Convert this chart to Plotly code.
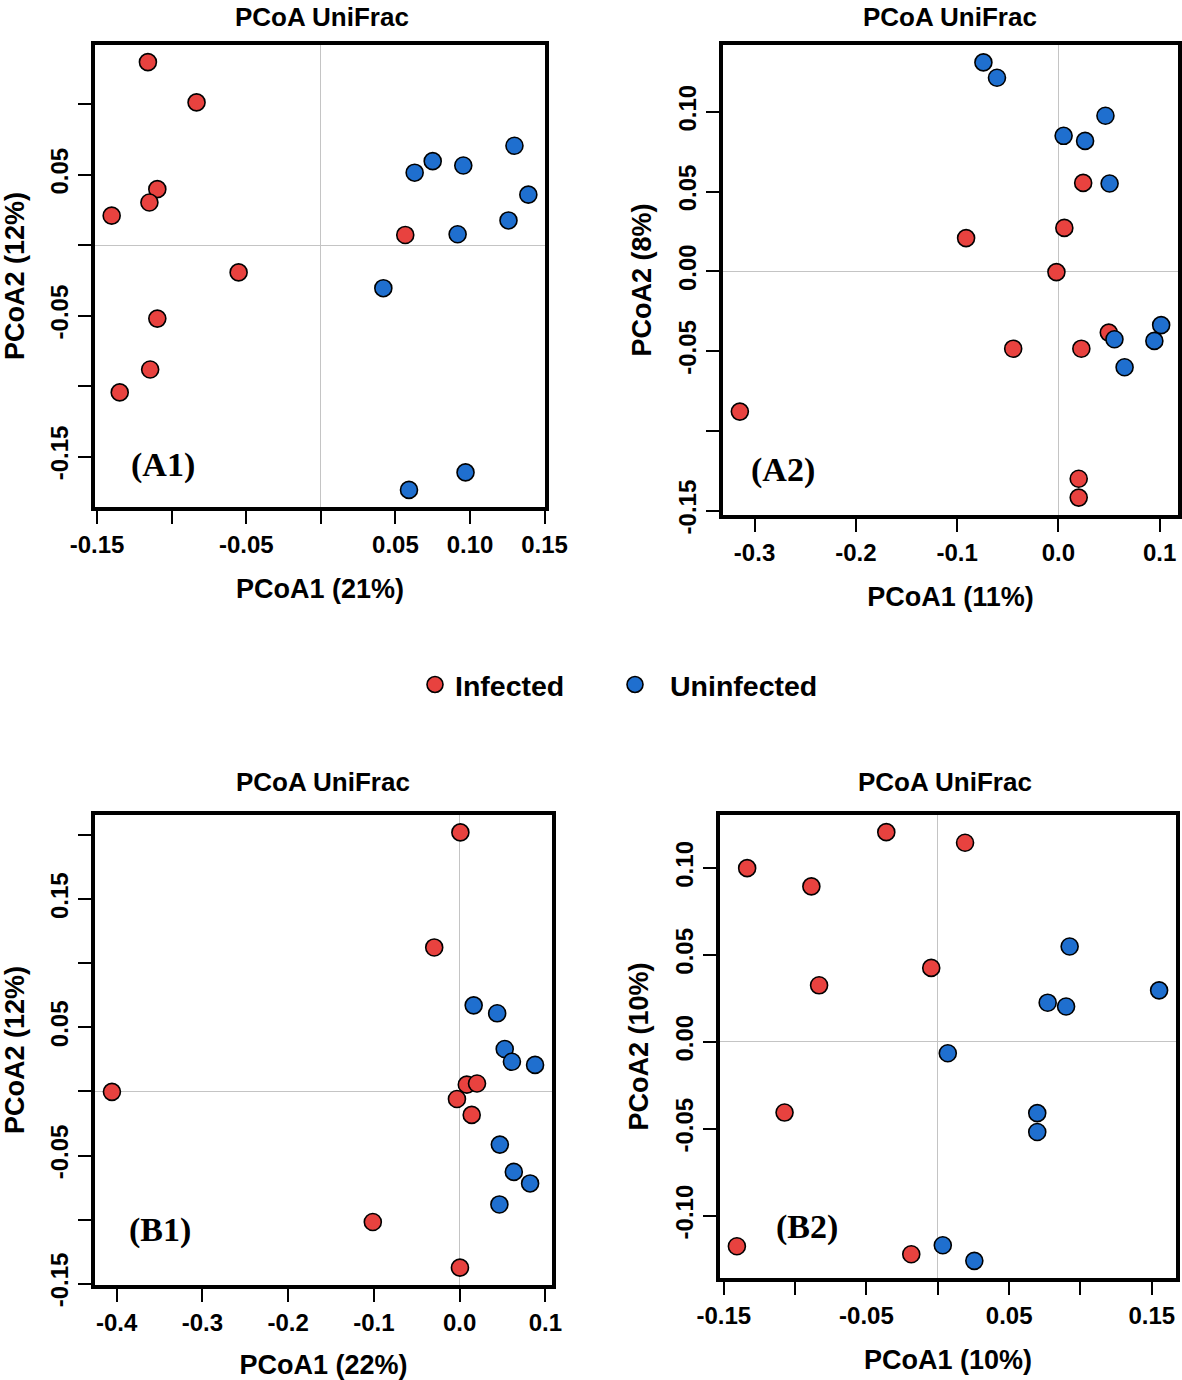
import plotly.graph_objects as go

# ---------------- data ----------------
# Panel A1
A1_inf_x = [-0.1159, -0.0833, -0.1096, -0.1149, -0.1402, 0.0566, -0.0551, -0.1096, -0.1144, -0.1348]
A1_inf_y = [0.1300, 0.1014, 0.0398, 0.0303, 0.0210, 0.0073, -0.0193, -0.0521, -0.0882, -0.1045]
A1_uni_x = [0.1298, 0.0750, 0.0955, 0.0629, 0.1391, 0.1258, 0.0917, 0.0419, 0.0970, 0.0591]
A1_uni_y = [0.0706, 0.0597, 0.0566, 0.0515, 0.0359, 0.0176, 0.0078, -0.0305, -0.1613, -0.1737]

# Panel A2
A2_inf_x = [0.0245, 0.0059, -0.0911, -0.0019, 0.0498, -0.0446, 0.0227, -0.3145, 0.0201, 0.0201]
A2_inf_y = [0.0554, 0.0272, 0.0208, -0.0005, -0.0384, -0.0485, -0.0485, -0.0879, -0.1300, -0.1418]
A2_uni_x = [-0.0740, -0.0606, 0.0465, 0.0052, 0.0264, 0.0506, 0.1015, 0.0554, 0.0948, 0.0654]
A2_uni_y = [0.1309, 0.1213, 0.0975, 0.0849, 0.0817, 0.0550, -0.0337, -0.0426, -0.0436, -0.0601]

# Panel B1
B1_inf_x = [0.0009, -0.0296, 0.0084, 0.0203, -0.0031, 0.0141, -0.4054, -0.1012, 0.0004]
B1_inf_y = [0.2022, 0.1124, 0.0053, 0.0062, -0.0059, -0.0183, -0.0003, -0.1019, -0.1375]
B1_uni_x = [0.0164, 0.0438, 0.0526, 0.0610, 0.0880, 0.0469, 0.0632, 0.0822, 0.0464]
B1_uni_y = [0.0672, 0.0610, 0.0331, 0.0232, 0.0207, -0.0415, -0.0628, -0.0718, -0.0882]

# Panel B2
B2_inf_x = [-0.0361, 0.0191, -0.1336, -0.0886, -0.0046, -0.0832, -0.1074, -0.1408, -0.0186]
B2_inf_y = [0.1206, 0.1145, 0.0999, 0.0894, 0.0425, 0.0325, -0.0407, -0.1176, -0.1222]
B2_uni_x = [0.0924, 0.1551, 0.0770, 0.0899, 0.0070, 0.0697, 0.0697, 0.0035, 0.0256]
B2_uni_y = [0.0548, 0.0296, 0.0225, 0.0203, -0.0066, -0.0410, -0.0519, -0.1170, -0.1260]

group_names = ["Infected", "Uninfected"]
panel_labels = ["(A1)", "(A2)", "(B1)", "(B2)"]
panel_title = "PCoA UniFrac"
x_titles = ["PCoA1 (21%)", "PCoA1 (11%)", "PCoA1 (22%)", "PCoA1 (10%)"]
y_titles = ["PCoA2 (12%)", "PCoA2 (8%)", "PCoA2 (12%)", "PCoA2 (10%)"]

A1_xticks = [-0.15, -0.10, -0.05, 0.0, 0.05, 0.10, 0.15]
A1_xtext = ["-0.15", "", "-0.05", "", "0.05", "0.10", "0.15"]
A1_yticks = [-0.15, -0.10, -0.05, 0.0, 0.05, 0.10]
A1_ytext = ["-0.15", "", "-0.05", "", "0.05", ""]
A2_xticks = [-0.3, -0.2, -0.1, 0.0, 0.1]
A2_xtext = ["-0.3", "-0.2", "-0.1", "0.0", "0.1"]
A2_yticks = [-0.15, -0.10, -0.05, 0.0, 0.05, 0.10]
A2_ytext = ["-0.15", "", "-0.05", "0.00", "0.05", "0.10"]
B1_xticks = [-0.4, -0.3, -0.2, -0.1, 0.0, 0.1]
B1_xtext = ["-0.4", "-0.3", "-0.2", "-0.1", "0.0", "0.1"]
B1_yticks = [-0.15, -0.10, -0.05, 0.0, 0.05, 0.10, 0.15, 0.20]
B1_ytext = ["-0.15", "", "-0.05", "", "0.05", "", "0.15", ""]
B2_xticks = [-0.15, -0.10, -0.05, 0.0, 0.05, 0.10, 0.15]
B2_xtext = ["-0.15", "", "-0.05", "", "0.05", "", "0.15"]
B2_yticks = [-0.10, -0.05, 0.0, 0.05, 0.10]
B2_ytext = ["-0.10", "-0.05", "0.00", "0.05", "0.10"]

# ---------------- styling ----------------
W, H = 1182, 1380
RED = "#E8423F"
BLUE = "#1F6FCF"
SANS = "Liberation Sans"
SERIF = "Liberation Serif"


def fx(px):
    return px / W


def fy(py):
    return 1 - py / H


# title: (x centre, y top) in pixels
panels = [
    dict(ix=(A1_inf_x, A1_inf_y), ux=(A1_uni_x, A1_uni_y), xt=(A1_xticks, A1_xtext), yt=(A1_yticks, A1_ytext),
         box=(95, 545, 45, 507), lab=(163, 465), title=(322, 0)),
    dict(ix=(A2_inf_x, A2_inf_y), ux=(A2_uni_x, A2_uni_y), xt=(A2_xticks, A2_xtext), yt=(A2_yticks, A2_ytext),
         box=(723, 1178, 45, 515), lab=(783, 470), title=(950, 0)),
    dict(ix=(B1_inf_x, B1_inf_y), ux=(B1_uni_x, B1_uni_y), xt=(B1_xticks, B1_xtext), yt=(B1_yticks, B1_ytext),
         box=(95, 552, 815, 1285), lab=(160, 1230), title=(323, 765)),
    dict(ix=(B2_inf_x, B2_inf_y), ux=(B2_uni_x, B2_uni_y), xt=(B2_xticks, B2_xtext), yt=(B2_yticks, B2_ytext),
         box=(720, 1176, 815, 1278), lab=(807, 1227), title=(945, 765)),
]


def pad_range(vals, frac=0.04):
    lo, hi = min(vals), max(vals)
    d = (hi - lo) * frac
    return [lo - d, hi + d]


fig = go.Figure()
annotations = []
layout_axes = {}

for i, p in enumerate(panels):
    n = i + 1
    xa = "x" if n == 1 else f"x{n}"
    ya = "y" if n == 1 else f"y{n}"
    for (xs, ys), name, col, lg in [(p["ix"], group_names[0], RED, "legend"),
                                    (p["ux"], group_names[1], BLUE, "legend2")]:
        fig.add_trace(go.Scatter(
            x=xs, y=ys, mode="markers", name=name, xaxis=xa, yaxis=ya,
            showlegend=(n == 1), legendgroup=name, legend=lg,
            marker=dict(size=17, color=col, line=dict(color="black", width=1.6)),
        ))
    l, r, t, b = p["box"]
    allx = list(p["ix"][0]) + list(p["ux"][0])
    ally = list(p["ix"][1]) + list(p["ux"][1])
    common = dict(showgrid=False, zeroline=True, zerolinecolor="#c4c4c4", zerolinewidth=1,
                  showline=True, mirror=True, linecolor="black", linewidth=4,
                  ticks="outside", ticklen=13, tickwidth=1.5, tickcolor="black",
                  tickfont=dict(family=SANS, size=24, color="black", weight="bold"),
                  automargin=False)
    xkey = "xaxis" if n == 1 else f"xaxis{n}"
    ykey = "yaxis" if n == 1 else f"yaxis{n}"
    layout_axes[xkey] = dict(common, domain=[fx(l), fx(r)], anchor=ya, range=pad_range(allx),
                             tickmode="array", tickvals=p["xt"][0], ticktext=p["xt"][1],
                             title=dict(text=x_titles[i], standoff=23,
                                        font=dict(family=SANS, size=27, color="black", weight="bold")))
    layout_axes[ykey] = dict(common, domain=[fy(b), fy(t)], anchor=xa, range=pad_range(ally),
                             tickmode="array", tickvals=p["yt"][0], ticktext=p["yt"][1], tickangle=-90,
                             title=dict(text=y_titles[i], standoff=16,
                                        font=dict(family=SANS, size=27, color="black", weight="bold")))
    annotations.append(dict(text=panel_title, x=fx(p["title"][0]), y=fy(p["title"][1]),
                            xref="paper", yref="paper", showarrow=False, xanchor="center", yanchor="top",
                            font=dict(family=SANS, size=26, color="black", weight="bold")))
    annotations.append(dict(text=panel_labels[i], x=fx(p["lab"][0]), y=fy(p["lab"][1]),
                            xref="paper", yref="paper", showarrow=False, xanchor="center", yanchor="middle",
                            font=dict(family=SERIF, size=34, color="black", weight="bold")))

legend_font = dict(family=SANS, size=28.5, color="black", weight="bold")
fig.update_layout(
    width=W, height=H, margin=dict(l=0, r=0, t=0, b=0),
    paper_bgcolor="white", plot_bgcolor="white",
    annotations=annotations,
    showlegend=True,
    legend=dict(orientation="h", x=fx(415), xanchor="left", y=fy(685), yanchor="middle",
                font=legend_font, bgcolor="rgba(0,0,0,0)", itemclick=False),
    legend2=dict(orientation="h", x=fx(600), xanchor="left", y=fy(685), yanchor="middle",
                 font=legend_font, bgcolor="rgba(0,0,0,0)", itemclick=False, itemwidth=60),
    **layout_axes,
)

fig.write_html("out.html", config={"displayModeBar": False},
               post_script="document.body.style.margin='0px';")
